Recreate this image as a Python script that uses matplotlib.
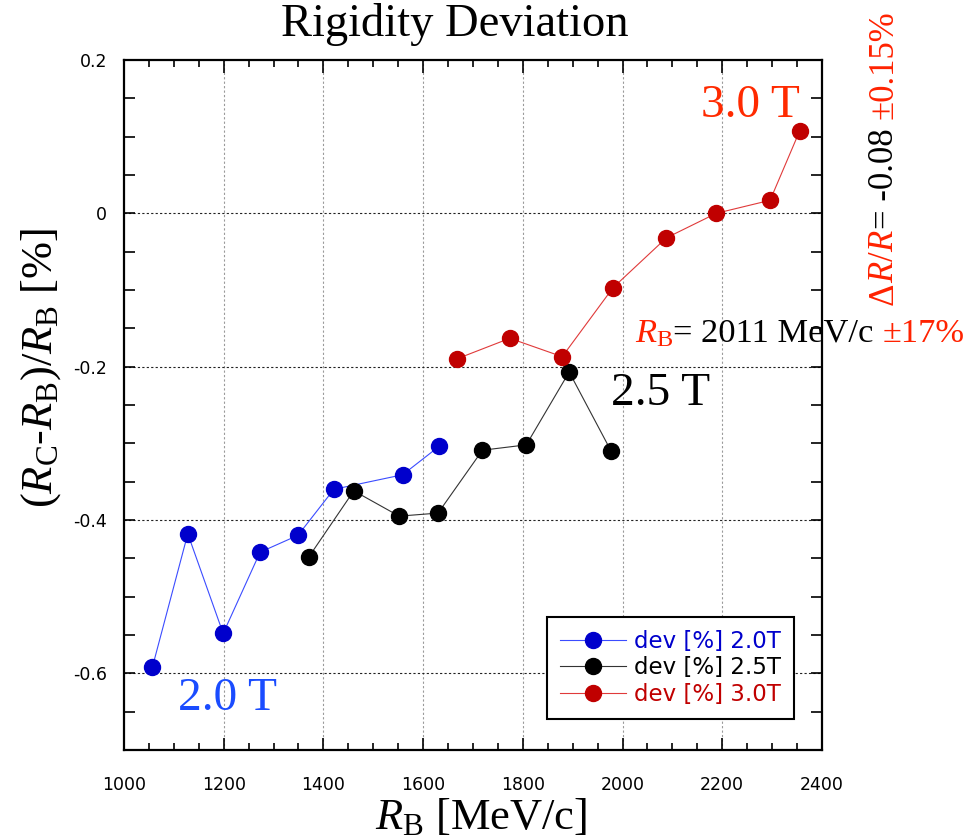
import matplotlib
matplotlib.use("Agg")
import matplotlib.pyplot as plt
from matplotlib.ticker import MultipleLocator, FixedLocator
from matplotlib import transforms

# Beam rigidity R_B [MeV/c] and deviation (R_C - R_B)/R_B [%] for each field setting
rb_20 = [1057, 1128, 1199, 1273, 1349, 1421, 1559, 1632]
dev_20 = [-0.592, -0.418, -0.548, -0.442, -0.420, -0.360, -0.341, -0.304]

rb_25 = [1371, 1461, 1552, 1630, 1719, 1807, 1893, 1977]
dev_25 = [-0.448, -0.362, -0.395, -0.391, -0.309, -0.302, -0.207, -0.310]

rb_30 = [1667, 1774, 1879, 1981, 2088, 2188, 2296, 2355]
dev_30 = [-0.190, -0.163, -0.187, -0.097, -0.032, 0.000, 0.017, 0.107]

series_labels = ["dev [%] 2.0T", "dev [%] 2.5T", "dev [%] 3.0T"]
xticks = [1000, 1200, 1400, 1600, 1800, 2000, 2200, 2400]
yticks = [0.2, 0.0, -0.2, -0.4, -0.6]
ytick_labels = ["0.2", "0", "-0.2", "-0.4", "-0.6"]

plt.rcParams["mathtext.fontset"] = "custom"
plt.rcParams["mathtext.rm"] = "Liberation Serif"
plt.rcParams["mathtext.it"] = "Liberation Serif:italic"
plt.rcParams["mathtext.bf"] = "Liberation Serif:bold"

SERIF = "Liberation Serif"
W, H = 967.0, 839.0

fig = plt.figure(figsize=(9.67, 8.39), dpi=100)
ax = fig.add_axes([0.1282, 0.1061, 0.7218, 0.8224])

ax.set_xlim(1000, 2400)
ax.set_ylim(-0.7, 0.2)

# grid: grey dotted verticals, black dotted horizontals
for xv in xticks[1:-1]:
    ax.axvline(xv, color="#9a9a9a", lw=0.8, ls=(0, (2, 2)), zorder=0)
for yv in [0.0, -0.2, -0.4, -0.6]:
    ax.axhline(yv, color="#222222", lw=0.8, ls=(0, (2, 2)), zorder=0)

ax.plot(rb_20, dev_20, "-o", color="#3b4cff", lw=0.8, ms=11.5,
        mfc="#0000cc", mec="#0000cc", label=series_labels[0], zorder=3)
ax.plot(rb_25, dev_25, "-o", color="#333333", lw=0.8, ms=11.5,
        mfc="#000000", mec="#000000", label=series_labels[1], zorder=3)
ax.plot(rb_30, dev_30, "-o", color="#e03a3a", lw=0.8, ms=11.5,
        mfc="#c00000", mec="#c00000", label=series_labels[2], zorder=3)

# axes styling
for sp in ax.spines.values():
    sp.set_linewidth(1.6)
ax.xaxis.set_major_locator(FixedLocator(xticks))
ax.xaxis.set_minor_locator(MultipleLocator(50))
ax.yaxis.set_major_locator(FixedLocator(yticks))
ax.yaxis.set_minor_locator(MultipleLocator(0.05))
ax.set_yticklabels(ytick_labels)
ax.tick_params(which="both", direction="in", top=True, right=True, width=1.2,
               labelsize=12.5)
ax.tick_params(axis="x", which="major", length=9, pad=19)
ax.tick_params(axis="x", which="minor", length=5)
ax.tick_params(axis="y", which="both", length=8, pad=12)

fig.text(455 / W, 1 - 36 / H, "Rigidity Deviation", fontsize=33.5, family=SERIF,
         ha="center", va="baseline")
ax.set_xlabel(r"$R_\mathrm{B}$ [MeV/c]", fontsize=32, family=SERIF)
ax.xaxis.set_label_coords(0.512, -0.068)
ax.xaxis.label.set_va("top")
ax.set_ylabel(r"($R_\mathrm{C}$-$R_\mathrm{B}$)/$R_\mathrm{B}$ [%]",
              fontsize=32, family=SERIF)
ax.yaxis.set_label_coords(-0.088, 0.554)

leg = ax.legend(loc="upper left", bbox_to_anchor=(0.606, 0.1928),
                borderaxespad=0, fontsize=16.5, handlelength=2.9,
                handletextpad=0.35, labelspacing=0.17, borderpad=0.55,
                fancybox=False, framealpha=1, edgecolor="black",
                labelcolor=["#0000cc", "#000000", "#c00000"])
leg.get_frame().set_linewidth(1.5)

# field labels
ax.text(1208, -0.648, "2.0 T", color="#1a4cff", fontsize=34, family=SERIF,
        ha="center", va="baseline")
ax.text(2077, -0.2506, "2.5 T", color="black", fontsize=34, family=SERIF,
        ha="center", va="baseline")
ax.text(2257, 0.126, "3.0 T", color="#ff2a00", fontsize=34, family=SERIF,
        ha="center", va="baseline")


def rich_text(x, y, pieces, rotation=0, fontsize=24):
    """Draw consecutive coloured text pieces sharing one baseline."""
    fig.canvas.draw()
    renderer = fig.canvas.get_renderer()
    offset = 0.0
    for s, c in pieces:
        if rotation == 0:
            tr = transforms.offset_copy(fig.transFigure, fig=fig, x=offset, y=0, units="dots")
        else:
            tr = transforms.offset_copy(fig.transFigure, fig=fig, x=0, y=offset, units="dots")
        t = fig.text(x, y, s, color=c, transform=tr, rotation=rotation,
                     rotation_mode="anchor", ha="left", va="baseline",
                     fontsize=fontsize, family=SERIF)
        bb = t.get_window_extent(renderer)
        offset += bb.width if rotation == 0 else bb.height


rich_text(635 / W, 1 - 342 / H,
          [(r"$R_\mathrm{B}$", "#ff2200"), ("= 2011 MeV/c ", "black"),
           ("\u00b117%", "#ff2200")], fontsize=24.8)
rich_text(893 / W, 1 - 305 / H,
          [("\u0394", "#ff2200"), (r"$R/R$", "#ff2200"), ("= -0.08 ", "black"),
           ("\u00b10.15%", "#ff2200")], rotation=90, fontsize=25)

fig.savefig("out.png", dpi=100)
